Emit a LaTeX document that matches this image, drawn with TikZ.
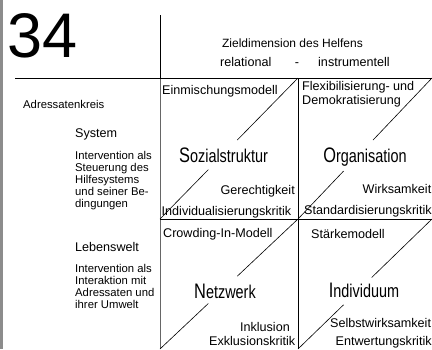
\documentclass[tikz,border=0pt]{standalone}
\usepackage{fontspec}
\usepackage{graphicx}
\setmainfont{Liberation Sans}
\usetikzlibrary{calc}
\newcommand\fsz[1]{\fontsize{#1}{#1}\selectfont}
\newcommand\cword[2]{\scalebox{0.78}[1]{{\fsz{21}#1}#2}}
\begin{document}
\begin{tikzpicture}[x=1pt,y=-1pt,
  txt/.style={inner sep=0pt,font=\fsz{12.6}},
  sml/.style={inner sep=0pt,font=\fsz{11.3}},
  centre/.style={inner sep=0pt,font=\fsz{18.5},anchor=base},
  grid/.style={line width=0.8pt,black},
  diag/.style={line width=0.6pt,black}]
\useasboundingbox (0,0) rectangle (432,349);
% corners
\coordinate (c00) at (160,78);  \coordinate (c10) at (298,78);  \coordinate (c20) at (432,78);
\coordinate (c01) at (160,219); \coordinate (c11) at (298,219); \coordinate (c21) at (432,219);
\coordinate (c02) at (160,349); \coordinate (c12) at (298,349); \coordinate (c22) at (432,349);
\coordinate (vtop) at (160,15); \coordinate (hleft) at (15,78);
% left gray bar
\fill[black!45] (0,0) rectangle (2.8,349);
% grid lines
\draw[grid] (vtop) -- (c00);
\draw[line width=0.8pt,black!60] (c00) -- (c02);
\draw[grid] (hleft) -- (c20);
\draw[grid] (c01) -- (c21);
\draw[grid] (c10) -- (c12);
% diagonals with gaps
\draw[diag] (c01) -- ($(c01)!0.35!(c10)$);
\draw[diag] ($(c01)!0.56!(c10)$) -- (c10);
\draw[diag] (c11) -- ($(c11)!0.34!(c20)$);
\draw[diag] ($(c11)!0.56!(c20)$) -- (c20);
\draw[diag] (c02) -- ($(c02)!0.35!(c11)$);
\draw[diag] ($(c02)!0.56!(c11)$) -- (c11);
\draw[diag] (c12) -- ($(c12)!0.34!(c21)$);
\draw[diag] ($(c12)!0.55!(c21)$) -- (c21);
% header
\node[inner sep=0pt,font=\fsz{63},anchor=base west] (num) at (7.5,57) {34};
\node[inner sep=0pt,font=\fsz{12},anchor=base] (zd) at (292.5,47.3) {Zieldimension des Helfens};
\node[txt,anchor=base west] (rel) at (220,66.5) {relational};
\node[txt,anchor=base] (dash) at (297,66.5) {-};
\node[txt,anchor=base west] (ins) at (318,66.5) {instrumentell};
% left column
\node[sml,anchor=base west] (adr) at (23,108) {Adressatenkreis};
\node[txt,anchor=base west] (sys) at (75,137.5) {System};
\node[sml,anchor=base west] (s1) at (75,159) {Intervention als};
\node[sml,anchor=base west] (s2) at (75,171.2) {Steuerung des};
\node[sml,anchor=base west] (s3) at (75,183.4) {Hilfesystems};
\node[sml,anchor=base west] (s4) at (75,195.6) {und seiner Be-};
\node[sml,anchor=base west] (s5) at (75,207.8) {dingungen};
\node[txt,anchor=base west] (leb) at (75,251.5) {Lebenswelt};
\node[sml,anchor=base west] (l1) at (75,272) {Intervention als};
\node[sml,anchor=base west] (l2) at (75,284.3) {Interaktion mit};
\node[sml,anchor=base west] (l3) at (75,296.6) {Adressaten und};
\node[sml,anchor=base west] (l4) at (75,308.9) {ihrer Umwelt};
% cell: Sozialstruktur
\node[txt,anchor=base west] (ein) at (162,94.5) {Einmischungsmodell};
\node[centre] (soz) at (223.5,162) {\cword{S}{ozialstruktur}};
\node[txt,anchor=base east] (ger) at (295,194.5) {Gerechtigkeit};
\node[txt,anchor=base west] (ind) at (161.5,215.5) {Individualisierungskritik};
% cell: Organisation
\node[txt,anchor=base west] (flx) at (302,90.5) {Flexibilisierung- und};
\node[txt,anchor=base west] (dem) at (302,104) {Demokratisierung};
\node[centre] (org) at (365,162) {\cword{O}{rganisation}};
\node[txt,anchor=base east] (wir) at (431.5,193.5) {Wirksamkeit};
\node[txt,anchor=base west] (std) at (304,214.5) {Standardisierungskritik};
% cell: Netzwerk
\node[txt,anchor=base west] (crw) at (163,237.5) {Crowding-In-Modell};
\node[centre] (net) at (225,298) {\cword{N}{etzwerk}};
\node[txt,anchor=base east] (ink) at (290,331) {Inklusion};
\node[txt,anchor=base east] (exk) at (295.5,345.5) {Exklusionskritik};
% cell: Individuum
\node[txt,anchor=base west] (stk) at (311,238.5) {Stärkemodell};
\node[centre] (idv) at (364,297) {\cword{I}{ndividuum}};
\node[txt,anchor=base west] (slb) at (330,327.5) {Selbstwirksamkeit};
\node[txt,anchor=base west] (ent) at (335.5,345.5) {Entwertungskritik};
\end{tikzpicture}
\end{document}
